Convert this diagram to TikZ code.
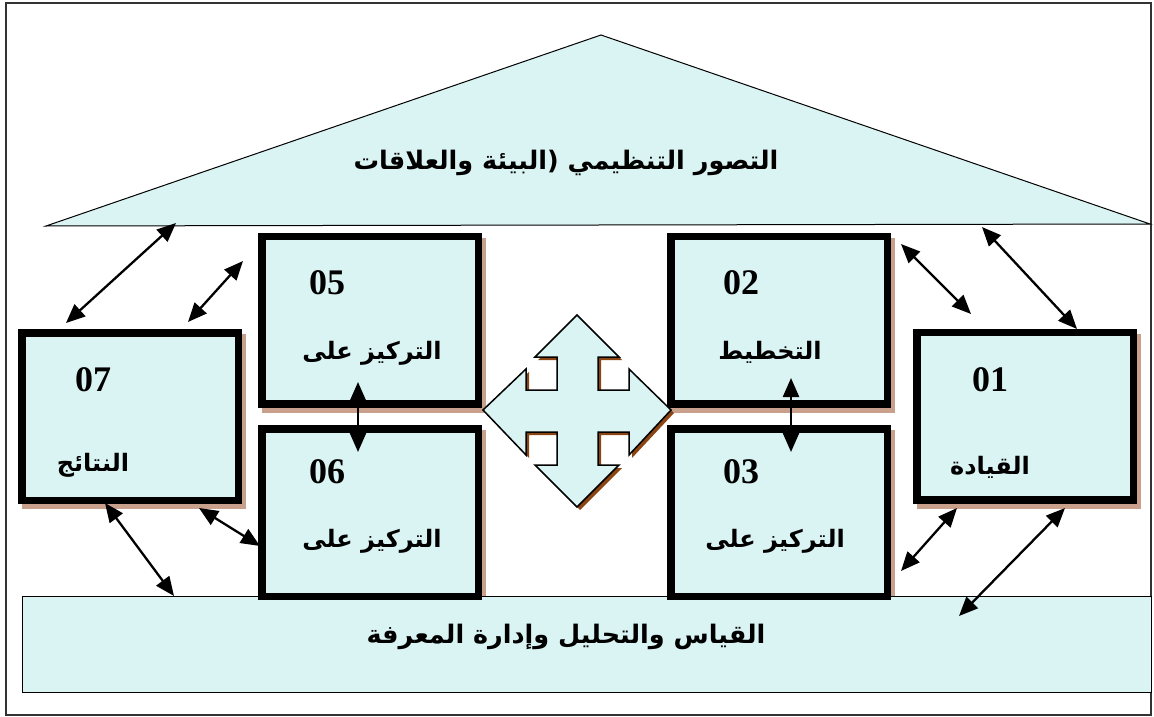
\documentclass[tikz,border=0pt]{standalone}
\usepackage{fontspec}
\setmainfont{Liberation Serif}
\newfontfamily\arabicfont[Script=Arabic]{DejaVu Sans}
\TeXXeTstate=1
\usetikzlibrary{arrows.meta,backgrounds,calc}
\definecolor{fillc}{RGB}{218,243,243}
\definecolor{shad}{RGB}{200,160,140}
\definecolor{arrshad}{RGB}{139,69,19}
\tikzset{
  box/.style={draw=black, line width=7.5pt, fill=fillc, minimum width=216.5pt, minimum height=167.5pt, inner sep=0pt},
  num/.style={font=\bfseries\fontsize{36}{40}\selectfont, inner sep=0pt},
  ar/.style={font=\arabicfont\bfseries\fontsize{24}{28}\selectfont, inner sep=0pt},
  arbig/.style={font=\arabicfont\bfseries\fontsize{25.5}{30}\selectfont, inner sep=0pt},
  dbl/.style={{Triangle[length=19pt,width=16pt]}-{Triangle[length=19pt,width=16pt]}, line width=2.3pt},
}
\begin{document}
\begin{tikzpicture}[x=1pt,y=-1pt]
\useasboundingbox (0,0) rectangle (1154,717);
% outer frame
\draw[line width=1.3pt, black!80] (6,3) rectangle (1151,715);
% roof
\filldraw[fill=fillc, draw=black, line width=1pt] (601,35) -- (1150,224) -- (46,226) -- cycle;
\node[arbig] (rooftext) at (566,163) {\beginR التصور التنظيمي (البيئة والعلاقات\endR};
% base band
\filldraw[fill=fillc, draw=black, line width=1pt] (22,596) rectangle (1151,692);
\node[arbig] (basetext) at (566,637) {\beginR القياس والتحليل وإدارة المعرفة\endR};
% boxes
\node[box] (b05) at (370,320) {};
\node[box] (b06) at (370,512.5) {};
\node[box] (b07) at (130,416.5) {};
\node[box] (b02) at (779,320) {};
\node[box] (b03) at (779,512.5) {};
\node[box] (b01) at (1025,416) {};
\begin{scope}[on background layer]
  \foreach \n in {b01,b02,b03,b05,b06,b07}
    \fill[shad] ($(\n.north west)+(4,5)$) rectangle ($(\n.south east)+(4,5)$);
\end{scope}
% box texts
\node[num] (n05) at (327,283) {05};
\node[ar]  (t05) at (372,353) {\beginR التركيز على\endR};
\node[num] (n06) at (327,472) {06};
\node[ar]  (t06) at (372,541) {\beginR التركيز على\endR};
\node[num] (n02) at (741,283) {02};
\node[ar]  (t02) at (770,352) {\beginR التخطيط\endR};
\node[num] (n03) at (741,472) {03};
\node[ar]  (t03) at (775,541) {\beginR التركيز على\endR};
\node[num] (n01) at (990,380) {01};
\node[ar]  (t01) at (990,467) {\beginR القيادة\endR};
\node[num] (n07) at (93,380) {07};
\node[ar]  (t07) at (93,465) {\beginR النتائج\endR};
% four-way arrow
\def\quadarrow{(577,315) -- (619,357) -- (598,357) -- (598,390) -- (629,390) -- (629,369) -- (671,410) -- (629,455) -- (629,432) -- (598,432) -- (598,465) -- (619,465) -- (577,507) -- (535,465) -- (557,465) -- (557,432) -- (526,432) -- (526,455) -- (483,410) -- (526,369) -- (526,390) -- (557,390) -- (557,357) -- (535,357) -- cycle}
\fill[arrshad, shift={(3,3)}] \quadarrow;
\filldraw[fill=fillc, draw=black, line width=1.5pt, line join=miter] \quadarrow;
% connector end points
\coordinate (r1) at (176,223);  \coordinate (c07a) at (66,323);
\coordinate (c05a) at (243,261); \coordinate (c07b) at (188,322);
\coordinate (c02a) at (901,244); \coordinate (c01a) at (971,314);
\coordinate (r2) at (982,227);  \coordinate (c01b) at (1077,329);
\coordinate (c05b) at (358,382); \coordinate (c06a) at (358,452);
\coordinate (c02b) at (791,378); \coordinate (c03a) at (791,452);
\coordinate (c01c) at (957,508); \coordinate (c03b) at (901,571);
\coordinate (c01d) at (1065,508); \coordinate (g1) at (959,616);
\coordinate (c07c) at (105,503); \coordinate (g2) at (174,596);
\coordinate (c07d) at (199,508); \coordinate (c06b) at (260,546);
% connectors
\draw[dbl] (r1) -- (c07a);
\draw[dbl] (c05a) -- (c07b);
\draw[dbl] (c02a) -- (c01a);
\draw[dbl] (r2) -- (c01b);
\draw[dbl] (c05b) -- (c06a);
\draw[dbl] (c02b) -- (c03a);
\draw[dbl] (c01c) -- (c03b);
\draw[dbl] (c01d) -- (g1);
\draw[dbl] (c07c) -- (g2);
\draw[dbl] (c07d) -- (c06b);
\end{tikzpicture}
\end{document}
